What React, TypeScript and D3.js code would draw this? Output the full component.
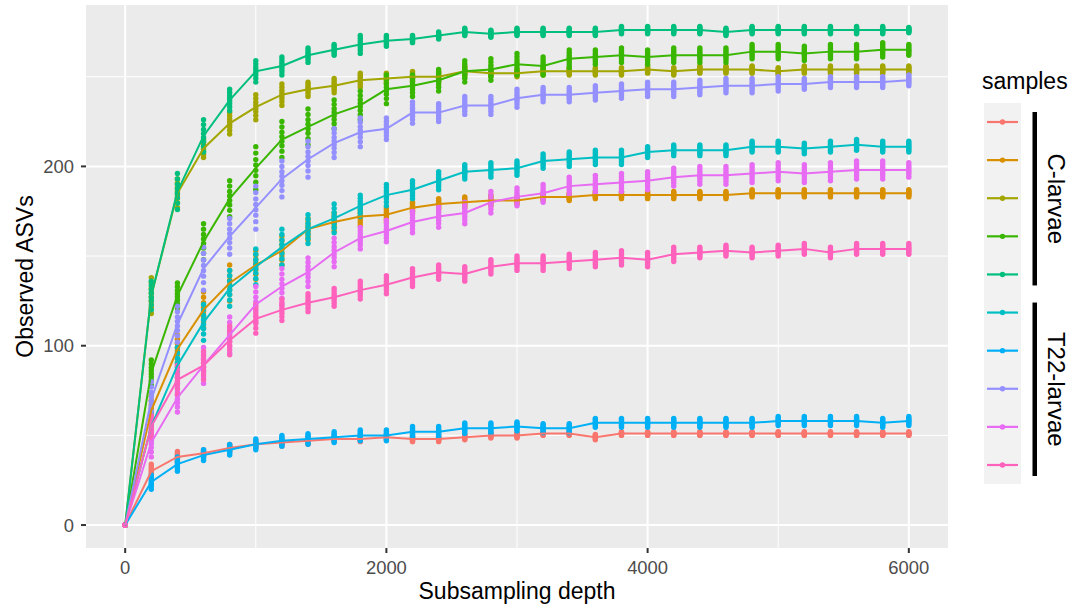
import React, { useEffect } from 'react';
import * as d3 from 'd3';

// subsampling depths (x)
const depths = d3.range(0, 6001, 200);

const sampleNames = ['C1', 'C2', 'C3', 'C4', 'C5', 'T1', 'T2', 'T3', 'T4', 'T5'];
const sampleColors = ['#F8766D', '#D89000', '#A3A500', '#39B600', '#00BF7D', '#00BFC4', '#00B0F6', '#9590FF', '#E76BF3', '#FF62BC'];

// mean observed ASVs per depth (the line)
const meanC1 = [0, 30, 38, 40, 43, 45, 46, 47, 48, 48, 49, 48, 48, 49, 50, 50, 51, 51, 49, 51, 51, 51, 51, 51, 51, 51, 51, 51, 51, 51, 51];
const meanC2 = [0, 64, 98, 120, 135, 145, 153, 165, 169, 172, 173, 177, 179, 180, 181, 181, 183, 183, 184, 184, 184, 184, 184, 184, 185, 185, 185, 185, 185, 185, 185];
const meanC3 = [0, 128, 185, 210, 224, 233, 240, 243, 245, 248, 249, 250, 250, 253, 252, 252, 253, 253, 253, 253, 254, 253, 254, 254, 254, 253, 254, 254, 254, 254, 254];
const meanC4 = [0, 85, 128, 158, 182, 199, 215, 222, 229, 234, 243, 245, 248, 253, 254, 257, 256, 260, 261, 262, 261, 262, 262, 262, 264, 264, 263, 264, 264, 265, 265];
const meanC5 = [0, 128, 186, 217, 237, 253, 256, 262, 265, 268, 270, 271, 273, 275, 274, 275, 275, 275, 275, 276, 276, 276, 276, 275, 276, 276, 276, 276, 276, 276, 276];
const meanT1 = [0, 55, 89, 113, 132, 144, 155, 165, 171, 178, 184, 187, 192, 197, 198, 199, 203, 204, 205, 205, 208, 209, 209, 209, 211, 211, 210, 211, 212, 211, 211];
const meanT2 = [0, 24, 34, 39, 42, 45, 47, 48, 49, 50, 50, 52, 52, 54, 54, 55, 54, 54, 57, 57, 57, 57, 57, 57, 57, 58, 58, 58, 58, 57, 58];
const meanT3 = [0, 70, 112, 143, 161, 177, 193, 204, 213, 219, 221, 230, 230, 234, 234, 238, 240, 240, 241, 242, 243, 243, 244, 245, 245, 246, 246, 247, 247, 247, 248];
const meanT4 = [0, 46, 71, 89, 106, 123, 133, 141, 152, 160, 164, 169, 172, 174, 180, 183, 185, 189, 190, 191, 192, 194, 195, 195, 196, 197, 196, 197, 198, 198, 198];
const meanT5 = [0, 55, 81, 89, 103, 115, 120, 124, 127, 131, 134, 138, 141, 140, 144, 146, 146, 147, 148, 149, 148, 151, 152, 153, 152, 153, 154, 152, 154, 154, 154];

// half-range of replicate points per depth
const spreadC1 = [0, 4, 3, 2, 2, 2, 2, 2, 1.5, 1.5, 1.5, 1.5, 1.5, 1.5, 1.5, 1.5, 1, 1, 1.5, 1, 1, 1, 1, 1, 1, 1, 1, 1, 1, 1, 1];
const spreadC2 = [0, 8, 8, 10, 10, 8, 8, 6, 5, 5, 4, 3, 3, 3, 3, 2, 2, 2, 2, 2, 2, 2, 2, 2, 2, 2, 2, 2, 2, 2, 2];
const spreadC3 = [0, 10, 8, 5, 6, 7, 6, 4, 4, 4, 3, 3, 3, 3, 2, 2, 2, 2, 2, 2, 2, 2, 2, 2, 2, 2, 2, 2, 2, 2, 2];
const spreadC4 = [0, 7, 7, 10, 10, 12, 10, 10, 8, 8, 8, 6, 6, 6, 6, 6, 5, 5, 4, 4, 4, 4, 4, 4, 4, 4, 4, 4, 4, 4, 3];
const spreadC5 = [0, 8, 10, 9, 6, 6, 5, 4, 3, 5, 3, 2, 2, 2, 2, 2, 2, 2, 2, 2, 2, 2, 2, 2, 2, 2, 2, 2, 2, 2, 1.5];
const spreadT1 = [0, 8, 10, 10, 10, 10, 10, 8, 8, 6, 6, 5, 5, 4, 4, 4, 4, 4, 4, 4, 3, 3, 3, 3, 3, 3, 3, 3, 3, 3, 3];
const spreadT2 = [0, 4, 4, 3, 3, 3, 3, 3, 3, 3, 3, 3, 3, 3, 3, 2.5, 2.5, 2.5, 2.5, 2.5, 2.5, 2.5, 2.5, 2.5, 2.5, 2.5, 2.5, 2.5, 2.5, 2.5, 2.5];
const spreadT3 = [0, 10, 10, 12, 10, 12, 10, 10, 8, 8, 6, 6, 5, 5, 5, 5, 4, 4, 4, 4, 4, 4, 4, 4, 4, 4, 3, 3, 3, 3, 3];
const spreadT4 = [0, 8, 8, 10, 10, 10, 10, 8, 8, 6, 6, 6, 6, 6, 6, 5, 5, 5, 5, 5, 5, 5, 5, 5, 5, 5, 5, 5, 5, 5, 4];
const spreadT5 = [0, 6, 8, 8, 8, 8, 6, 5, 5, 5, 5, 5, 4, 4, 4, 4, 4, 4, 4, 4, 4, 4, 3, 3, 3, 3, 3, 3, 3, 3, 3];

const sampleMeans = [meanC1, meanC2, meanC3, meanC4, meanC5, meanT1, meanT2, meanT3, meanT4, meanT5];
const sampleSpreads = [spreadC1, spreadC2, spreadC3, spreadC4, spreadC5, spreadT1, spreadT2, spreadT3, spreadT4, spreadT5];
// relative position of each replicate inside its range
const replicateOffsets = [-1, -0.65, -0.35, -0.1, 0.15, 0.4, 0.7, 1];

const xTicks = [0, 2000, 4000, 6000];
const xMinor = [1000, 3000, 5000];
const yTicks = [0, 100, 200];
const yMinor = [50, 150, 250];

const groups = [
  { label: 'C-larvae', from: 0, to: 4 },
  { label: 'T22-larvae', from: 5, to: 9 },
];

const font = '"Liberation Sans", Arial, Helvetica, sans-serif';

const App = () => {
  useEffect(() => {
    document.body.style.margin = '0';
  }, []);

  const width = 1077;
  const height = 611;
  const panel = { left: 86, right: 948, top: 5, bottom: 548 };

  const x = d3.scaleLinear().domain([-300, 6300]).range([panel.left, panel.right]);
  const y = d3.scaleLinear().domain([-12.8, 290]).range([panel.bottom, panel.top]);

  const line = d3.line<number>()
    .x((_, i) => x(depths[i]))
    .y(d => y(d));

  const keyY = d3.scaleLinear().domain([0, 9]).range([122, 465]);

  return (
    <svg width={width} height={height} style={{ display: 'block', fontFamily: font }}>
      <rect x={0} y={0} width={width} height={height} fill="#fff" />
      {/* panel */}
      <rect x={panel.left} y={panel.top} width={panel.right - panel.left} height={panel.bottom - panel.top} fill="#EBEBEB" />
      {yMinor.map(t => (
        <line key={'ym' + t} x1={panel.left} x2={panel.right} y1={y(t)} y2={y(t)} stroke="#fff" strokeWidth={1} />
      ))}
      {xMinor.map(t => (
        <line key={'xm' + t} x1={x(t)} x2={x(t)} y1={panel.top} y2={panel.bottom} stroke="#fff" strokeWidth={1} />
      ))}
      {yTicks.map(t => (
        <line key={'yg' + t} x1={panel.left} x2={panel.right} y1={y(t)} y2={y(t)} stroke="#fff" strokeWidth={2} />
      ))}
      {xTicks.map(t => (
        <line key={'xg' + t} x1={x(t)} x2={x(t)} y1={panel.top} y2={panel.bottom} stroke="#fff" strokeWidth={2} />
      ))}

      {/* replicate points */}
      {sampleMeans.map((means, s) => (
        <g key={'pts' + s} fill={sampleColors[s]}>
          {means.map((m, i) =>
            replicateOffsets.map((o, r) => (
              <circle key={i + '-' + r} cx={x(depths[i])} cy={y(m + o * sampleSpreads[s][i])} r={2.7} />
            ))
          )}
        </g>
      ))}
      {/* mean lines */}
      {sampleMeans.map((means, s) => (
        <path key={'ln' + s} d={line(means) || ''} fill="none" stroke={sampleColors[s]} strokeWidth={2} />
      ))}

      {/* axes */}
      {xTicks.map(t => (
        <g key={'xt' + t}>
          <line x1={x(t)} x2={x(t)} y1={panel.bottom} y2={panel.bottom + 5} stroke="#333" strokeWidth={2} />
          <text x={x(t)} y={574} textAnchor="middle" fontSize={18.4} fill="#4D4D4D">{t}</text>
        </g>
      ))}
      {yTicks.map(t => (
        <g key={'yt' + t}>
          <line x1={panel.left - 5} x2={panel.left} y1={y(t)} y2={y(t)} stroke="#333" strokeWidth={2} />
          <text x={74} y={y(t)} dy="0.36em" textAnchor="end" fontSize={18.4} fill="#4D4D4D">{t}</text>
        </g>
      ))}
      <text x={(panel.left + panel.right) / 2} y={599} textAnchor="middle" fontSize={23} fill="#000">Subsampling depth</text>
      <text transform={`translate(33,${(panel.top + panel.bottom) / 2}) rotate(-90)`} textAnchor="middle" fontSize={23} fill="#000">Observed ASVs</text>

      {/* legend */}
      <text x={982} y={89} fontSize={23} fill="#000">samples</text>
      <rect x={984} y={103} width={37} height={381} fill="#F2F2F2" />
      {sampleNames.map((n, i) => (
        <g key={'key' + n}>
          <line x1={987} x2={1018} y1={keyY(i)} y2={keyY(i)} stroke={sampleColors[i]} strokeWidth={2.2} />
          <circle cx={1002.5} cy={keyY(i)} r={2.7} fill={sampleColors[i]} />
        </g>
      ))}
      {groups.map(g => {
        const y0 = keyY(g.from) - 10;
        const y1 = keyY(g.to) + 11;
        return (
          <g key={g.label}>
            <rect x={1032.5} y={y0} width={4.5} height={y1 - y0} fill="#000" />
            <text transform={`translate(1057,${(y0 + y1) / 2}) rotate(90)`} textAnchor="middle" dy="0.36em" fontSize={24} fill="#000">{g.label}</text>
          </g>
        );
      })}
    </svg>
  );
};

export default App;
